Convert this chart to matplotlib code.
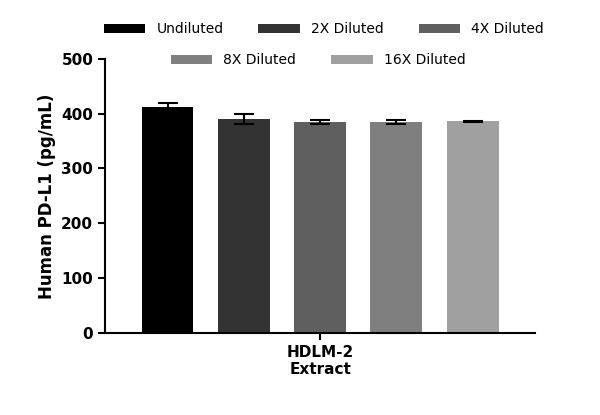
import matplotlib.pyplot as plt
import numpy as np

labels = ["Undiluted", "2X Diluted", "4X Diluted", "8X Diluted", "16X Diluted"]
values = [412, 390, 385, 385, 386]
errors = [7, 9, 4, 4, 1]
colors = ["#000000", "#333333", "#5f5f5f", "#7f7f7f", "#a0a0a0"]

fig = plt.figure(figsize=(6, 4.15), dpi=100)
ax = fig.add_axes([0.175, 0.198, 0.717, 0.66])
x = np.arange(len(values))
handles = []
for i in x:
    b = ax.bar(i, values[i], width=0.68, color=colors[i], label=labels[i])
    ax.errorbar(i, values[i], yerr=errors[i], color="black", capsize=7, lw=1.5, capthick=1.5)
    handles.append(b)
ax.set_xlim(-0.82, 4.82)
ax.set_ylim(0, 500)
ax.set_yticks(range(0, 501, 100))
ax.set_xticks([2])
ax.set_xticklabels(["HDLM-2\nExtract"], fontsize=11, fontweight="bold")
ax.set_ylabel("Human PD-L1 (pg/mL)", fontsize=12, fontweight="bold")
ax.tick_params(axis="y", labelsize=11, width=1.5, length=5)
ax.tick_params(axis="x", width=1.5, length=5)
for lab in ax.get_yticklabels():
    lab.set_fontweight("bold")
for s in ["top", "right"]:
    ax.spines[s].set_visible(False)
for s in ["left", "bottom"]:
    ax.spines[s].set_linewidth(1.5)
fig.legend(handles[:3], labels[:3], loc="center", bbox_to_anchor=(0.54, 0.93), ncol=3,
           frameon=False, fontsize=10, handlelength=3, handleheight=0.6, columnspacing=2.5)
fig.legend(handles[3:], labels[3:], loc="center", bbox_to_anchor=(0.53, 0.855), ncol=2,
           frameon=False, fontsize=10, handlelength=3, handleheight=0.6, columnspacing=2.5)
fig.savefig("out.png", dpi=100)
